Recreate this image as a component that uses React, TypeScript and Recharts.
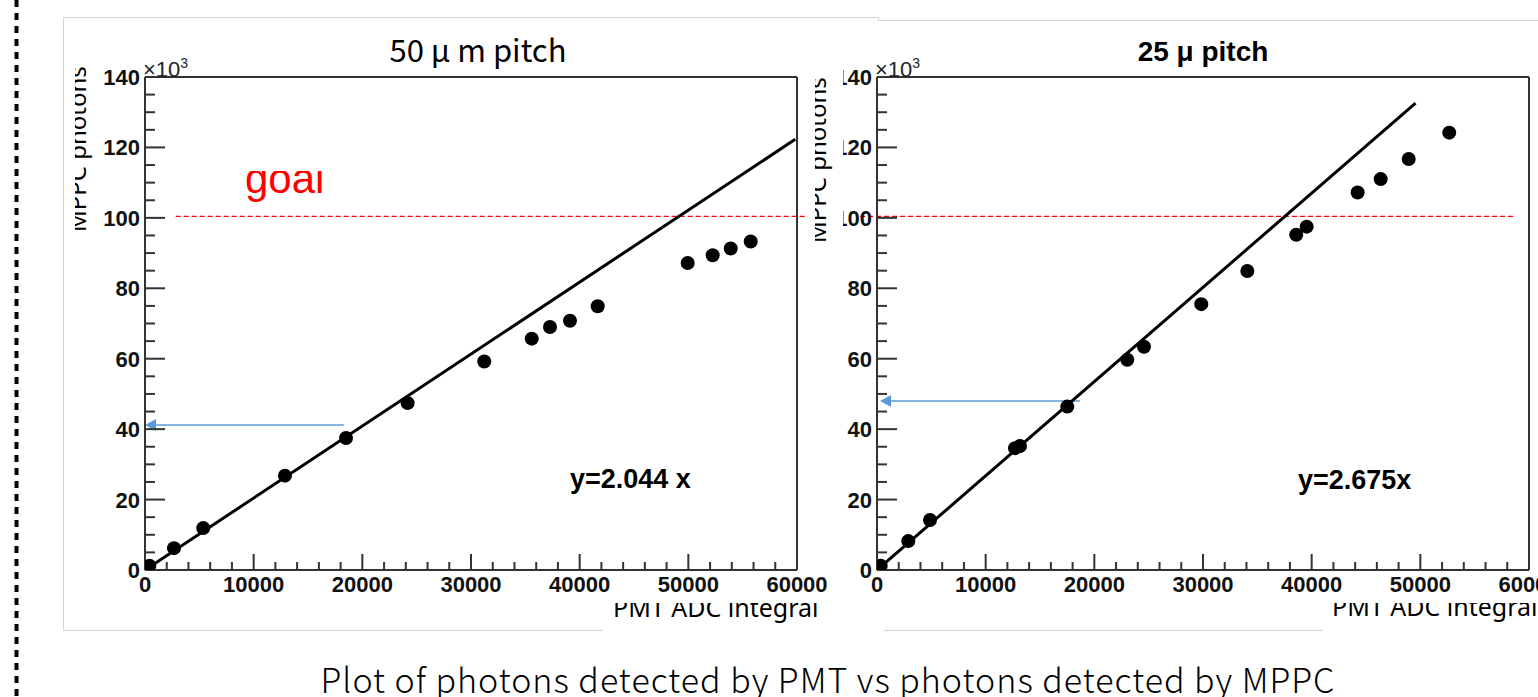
import React from "react";
import { ScatterChart, Scatter, XAxis, YAxis, ReferenceLine } from "recharts";

// 50 µm pitch : PMT ADC integral vs MPPC photons (x10^3)
const pmt50 = [400, 2670, 5360, 12880, 18500, 24170, 31220, 35590, 37270, 39110, 41660, 49940, 52240, 53900, 55740];
const mppc50 = [1.2, 6.2, 11.9, 26.8, 37.5, 47.4, 59.2, 65.7, 69.0, 70.8, 74.9, 87.2, 89.4, 91.3, 93.3];
const fitPmt50 = [0, 59840];
const fitMppc50 = [0, 122.3];

// 25 µm pitch
const pmt25 = [340, 2880, 4880, 12700, 13160, 17510, 23030, 24570, 29840, 34080, 38580, 39540, 44230, 46350, 48930, 52660];
const mppc25 = [1.2, 8.2, 14.2, 34.6, 35.2, 46.4, 59.7, 63.4, 75.5, 84.9, 95.2, 97.5, 107.2, 111.0, 116.7, 124.2];
const fitPmt25 = [0, 49560];
const fitMppc25 = [0, 132.6];

// goal line (x10^3 photons) and the blue arrows
const goal = 100.4;
const goalX50 = [2830, 61000];
const goalX25 = [-1560, 58600];
const arrow50 = { y: 41.2, from: 18300, to: 0 };
const arrow25 = { y: 48, from: 18680, to: 280 };

const xTicks = [0, 2000, 4000, 6000, 8000, 10000, 12000, 14000, 16000, 18000, 20000, 22000, 24000, 26000, 28000, 30000, 32000, 34000, 36000, 38000, 40000, 42000, 44000, 46000, 48000, 50000, 52000, 54000, 56000, 58000, 60000];
const xMajor = [0, 10000, 20000, 30000, 40000, 50000, 60000];
const yTicks = [0, 5, 10, 15, 20, 25, 30, 35, 40, 45, 50, 55, 60, 65, 70, 75, 80, 85, 90, 95, 100, 105, 110, 115, 120, 125, 130, 135, 140];
const yMajor = [0, 20, 40, 60, 80, 100, 120, 140];

const PLOT_W = 652;
const PLOT_H = 493;
const AX_W = 80;
const AX_H = 60;
const TOP = 37;
const RIGHT = 30;

const tickFont: React.CSSProperties = {
  fontFamily: "'Liberation Sans', Arial, sans-serif",
  fontWeight: 700,
  fontSize: 22,
  fill: "#111",
};

function YTick(props: any) {
  const { x, y, payload } = props;
  const v = payload.value as number;
  const major = yMajor.includes(v);
  return (
    <g>
      {v > 0 && v < 140 && (
        <line x1={x} x2={x + (major ? 20 : 10)} y1={y} y2={y} stroke="#333" strokeWidth={2} />
      )}
      {major && (
        <text x={x - 5} y={y + 8} textAnchor="end" style={tickFont}>
          {v}
        </text>
      )}
    </g>
  );
}

function XTick(props: any) {
  const { x, y, payload } = props;
  const v = payload.value as number;
  const major = xMajor.includes(v);
  return (
    <g>
      {v > 0 && v < 60000 && (
        <line x1={x} x2={x} y1={y} y2={y - (major ? 16 : 8)} stroke="#333" strokeWidth={2} />
      )}
      {major && (
        <text x={x} y={y + 22} textAnchor="middle" style={tickFont}>
          {v}
        </text>
      )}
    </g>
  );
}

function Dot(p: any) {
  return <circle cx={p.cx} cy={p.cy} r={7} fill="#000" />;
}

function NoDot() {
  return <g />;
}

function Arrow(p: any) {
  const { x1, y1, x2, y2 } = p;
  const head = 11;
  return (
    <g>
      <line x1={x1} y1={y1} x2={x2 + head} y2={y2} stroke="#5b9bd5" strokeWidth={1.5} />
      <polygon points={`${x2},${y2} ${x2 + head},${y2 - 6} ${x2 + head},${y2 + 6}`} fill="#5b9bd5" />
    </g>
  );
}

function Panel(props: {
  plotLeft: number;
  pmt: number[];
  mppc: number[];
  fitX: number[];
  fitY: number[];
  goalX: number[];
  arrow: { y: number; from: number; to: number };
}) {
  const { plotLeft, pmt, mppc, fitX, fitY, goalX, arrow } = props;
  const points = pmt.map((x, i) => ({ x, y: mppc[i] }));
  const fit = fitX.map((x, i) => ({ x, y: fitY[i] }));
  return (
    <div style={{ position: "absolute", left: plotLeft - AX_W, top: 40 }}>
      <ScatterChart
        width={AX_W + PLOT_W + RIGHT}
        height={TOP + PLOT_H + AX_H}
        margin={{ top: TOP, right: RIGHT, bottom: 0, left: 0 }}
      >
        <XAxis
          type="number"
          dataKey="x"
          domain={[0, 60000]}
          ticks={xTicks}
          interval={0}
          tickSize={0}
          tickMargin={0}
          tick={XTick}
          axisLine={{ stroke: "#333", strokeWidth: 2 }}
          height={AX_H}
          allowDataOverflow
        />
        <YAxis
          type="number"
          dataKey="y"
          domain={[0, 140]}
          ticks={yTicks}
          interval={0}
          tickSize={0}
          tickMargin={0}
          tick={YTick}
          axisLine={{ stroke: "#333", strokeWidth: 2 }}
          width={AX_W}
          allowDataOverflow
        />
        <ReferenceLine y={140} stroke="#333" strokeWidth={2} />
        <ReferenceLine x={60000} stroke="#333" strokeWidth={2} />
        <ReferenceLine
          segment={[
            { x: goalX[0], y: goal },
            { x: goalX[1], y: goal },
          ]}
          stroke="#ff0000"
          strokeWidth={1.3}
          strokeDasharray="5 3"
          ifOverflow="visible"
        />
        <Scatter data={fit} fill="#000" line={{ stroke: "#000", strokeWidth: 3 }} shape={NoDot} isAnimationActive={false} />
        <Scatter data={points} fill="#000" shape={Dot} isAnimationActive={false} />
        <ReferenceLine
          segment={[
            { x: arrow.from, y: arrow.y },
            { x: arrow.to, y: arrow.y },
          ]}
          ifOverflow="visible"
          shape={Arrow}
        />
      </ScatterChart>
    </div>
  );
}

const frame = "#d4d4d4";
const labelFont = "'Noto Sans', 'DejaVu Sans', sans-serif";
const cjkFont = "'Noto Sans CJK JP', 'Noto Sans', sans-serif";
const rootFont = "'Liberation Sans', Arial, sans-serif";

export default function App() {
  return (
    <div
      style={{
        position: "fixed",
        left: 0,
        top: 0,
        width: 1538,
        height: 697,
        overflow: "hidden",
        background: "#fff",
      }}
    >
      <Panel plotLeft={145} pmt={pmt50} mppc={mppc50} fitX={fitPmt50} fitY={fitMppc50} goalX={goalX50} arrow={arrow50} />
      <Panel plotLeft={877} pmt={pmt25} mppc={mppc25} fitX={fitPmt25} fitY={fitMppc25} goalX={goalX25} arrow={arrow25} />

      <svg width={1538} height={697} style={{ position: "absolute", left: 0, top: 0, pointerEvents: "none" }}>
        <defs>
          <clipPath id="cYL">
            <rect x={75} y={40} width={40} height={220} />
          </clipPath>
          <clipPath id="cYR">
            <rect x={815} y={40} width={40} height={220} />
          </clipPath>
          <clipPath id="cXL">
            <rect x={603} y={603} width={281} height={40} />
          </clipPath>
          <clipPath id="cXR">
            <rect x={1323} y={603} width={215} height={40} />
          </clipPath>
          <clipPath id="cGoal">
            <rect x={230} y={171} width={120} height={40} />
          </clipPath>
        </defs>

        {/* dashed line on the page edge */}
        <line x1={16.5} y1={0} x2={16.5} y2={697} stroke="#000" strokeWidth={4} strokeDasharray="7 6" />

        {/* picture frames */}
        <line x1={63} y1={17.5} x2={878} y2={17.5} stroke={frame} />
        <line x1={63.5} y1={17} x2={63.5} y2={631} stroke={frame} />
        <line x1={63} y1={630.5} x2={603} y2={630.5} stroke={frame} />
        <line x1={878.5} y1={17} x2={878.5} y2={20} stroke={frame} />
        <line x1={878} y1={20.5} x2={1538} y2={20.5} stroke={frame} />
        <line x1={884} y1={630.5} x2={1323} y2={630.5} stroke={frame} />

        {/* cover hiding most of the "1" of the right tick labels */}
        <rect x={810} y={60} width={33} height={190} fill="#fff" />

        {/* titles */}
        <text x={478} y={62} textAnchor="middle" style={{ fontFamily: cjkFont, fontSize: 31, fill: "#000" }}>
          50 μ m pitch
        </text>
        <text x={1203} y={61} textAnchor="middle" style={{ fontFamily: rootFont, fontWeight: 700, fontSize: 28, fill: "#000" }}>
          25 μ  pitch
        </text>

        {/* x10^3 */}
        <text x={143} y={77} style={{ fontFamily: rootFont, fontSize: 22, fill: "#222" }}>
          ×10<tspan dy={-9} fontSize={14}>3</tspan>
        </text>
        <text x={875} y={77} style={{ fontFamily: rootFont, fontSize: 22, fill: "#222" }}>
          ×10<tspan dy={-9} fontSize={14}>3</tspan>
        </text>

        {/* y axis titles, cut on their top side */}
        <g clipPath="url(#cYL)">
          <text transform="translate(86,232) rotate(-90)" style={{ fontFamily: labelFont, fontSize: 24, fill: "#000" }}>
            MPPC photons
          </text>
        </g>
        <g clipPath="url(#cYR)">
          <text transform="translate(826,243) rotate(-90)" style={{ fontFamily: labelFont, fontSize: 24, fill: "#000" }}>
            MPPC photons
          </text>
        </g>

        {/* x axis titles, cut on their top side */}
        <rect x={603} y={603} width={281} height={40} fill="#fff" />
        <g clipPath="url(#cXL)">
          <text x={613} y={617} style={{ fontFamily: labelFont, fontSize: 25, fill: "#000" }}>
            PMT ADC integral
          </text>
        </g>
        <rect x={1323} y={603} width={215} height={40} fill="#fff" />
        <g clipPath="url(#cXR)">
          <text x={1332} y={616} style={{ fontFamily: labelFont, fontSize: 25, fill: "#000" }}>
            PMT ADC integral
          </text>
        </g>

        {/* goal label */}
        <g clipPath="url(#cGoal)">
          <text x={245} y={193} style={{ fontFamily: rootFont, fontSize: 42, fill: "#ff0000" }}>
            goal
          </text>
        </g>

        {/* fit equations */}
        <text x={570} y={488} style={{ fontFamily: rootFont, fontWeight: 700, fontSize: 27, fill: "#000" }}>
          y=2.044 x
        </text>
        <text x={1298} y={489} style={{ fontFamily: rootFont, fontWeight: 700, fontSize: 27, fill: "#000" }}>
          y=2.675x
        </text>

        {/* caption */}
        <text
          x={828}
          y={693}
          textAnchor="middle"
          style={{ fontFamily: cjkFont, fontWeight: 300, fontSize: 34, letterSpacing: 1, fill: "#000" }}
        >
          Plot of photons detected by PMT vs photons detected by MPPC
        </text>
      </svg>
    </div>
  );
}
